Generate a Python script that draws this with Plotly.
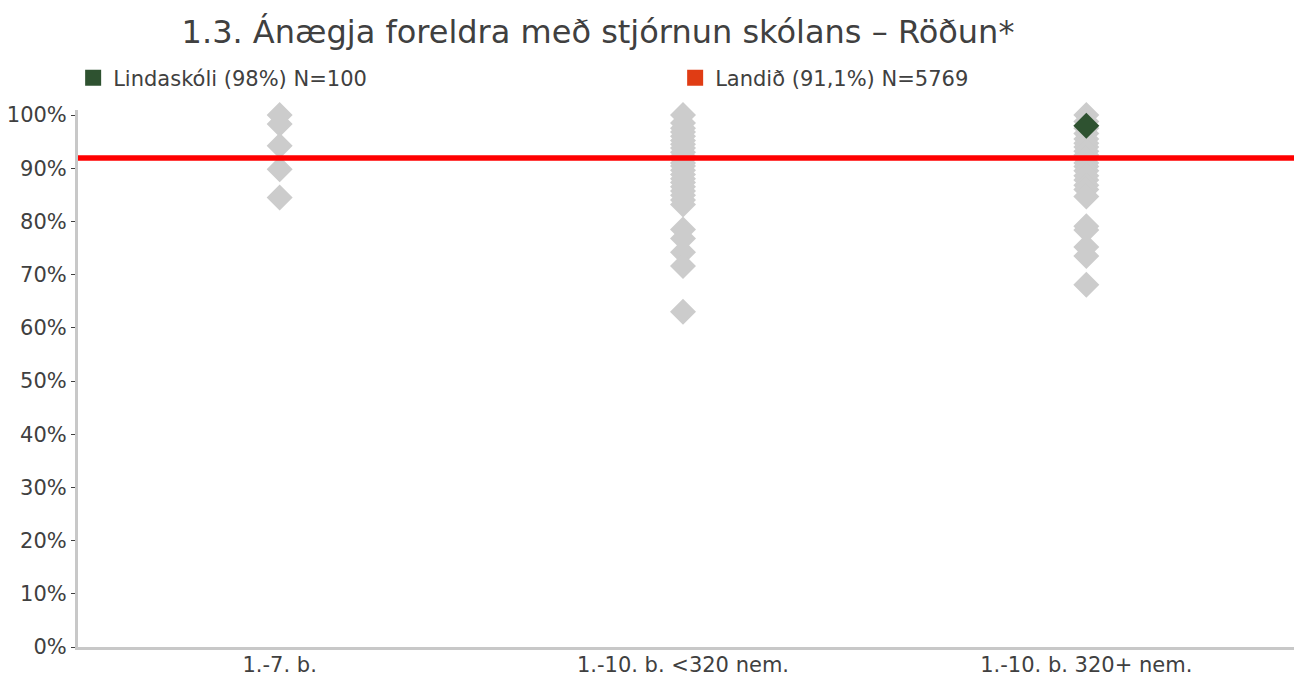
import plotly.graph_objects as go

categories = ["1.-7. b.", "1.-10. b. <320 nem.", "1.-10. b. 320+ nem."]

group_small = [100, 98.3, 94.2, 89.8, 84.5]
group_mid = [100, 98.5, 97.5, 96.8, 96.0, 95.2, 94.5, 93.8, 93.0, 92.3, 91.7,
             91.0, 90.4, 89.6, 88.8, 88.0, 87.3, 86.5, 85.7, 84.9, 84.0, 83.2,
             78.5, 76.8, 74.2, 71.6, 63.0]
group_large = [100, 98.8, 97.5, 96.5, 95.5, 94.7, 94.0, 93.2, 92.5, 91.8, 91.0,
               90.3, 89.5, 88.6, 87.8, 86.8, 86.0, 84.7, 79.1, 78.4, 75.2, 73.5, 68.1]

school_name = "Lindaskóli (98%) N=100"
school_category = "1.-10. b. 320+ nem."
school_value = 98.0

national_name = "Landið (91,1%) N=5769"
national_value = 91.9

title = "1.3. Ánægja foreldra með stjórnun skólans – Röðun*"

GRAY = "#CCCCCC"
GREEN = "#2E5230"
RED = "#FF0000"
LEG_RED = "#E03C14"
TXT = "#404040"
AX = "#C8C8C8"
FONT = "'DejaVu Sans', sans-serif"
XR = [-0.5, 2.515]

fig = go.Figure()

for cat, vals in zip(categories, [group_small, group_mid, group_large]):
    fig.add_trace(go.Scatter(
        x=[cat] * len(vals), y=vals, mode="markers", cliponaxis=False,
        marker=dict(symbol="diamond", size=20, color=GRAY, line=dict(width=0)),
        showlegend=False, hoverinfo="y"))

# national line
fig.add_trace(go.Scatter(
    x=XR, y=[national_value, national_value], mode="lines",
    xaxis="x2", line=dict(color=RED, width=5.5), showlegend=False, hoverinfo="skip"))

fig.add_trace(go.Scatter(
    x=[school_category], y=[school_value], mode="markers", cliponaxis=False,
    marker=dict(symbol="diamond", size=20, color=GREEN, line=dict(width=0)),
    showlegend=False, hoverinfo="y"))

# legend entries
fig.add_trace(go.Scatter(x=[None], y=[None], mode="markers", name=school_name,
                         marker=dict(symbol="square", size=18, color=GREEN)))
fig.add_trace(go.Scatter(x=[None], y=[None], mode="markers", name=national_name,
                         marker=dict(symbol="square", size=18, color=LEG_RED)))

fig.update_layout(
    width=1303, height=676,
    margin=dict(l=70, r=17, t=102, b=37),
    paper_bgcolor="white", plot_bgcolor="white",
    font=dict(family=FONT, color=TXT, size=21),
    title=dict(text=title, x=0.4528, xanchor="center", y=1 - 24 / 676, yanchor="middle",
               font=dict(size=32, color=TXT, family=FONT)),
    legend=dict(orientation="h", xref="container", yref="container",
                x=0.05, xanchor="left", y=1 - 70 / 676, yanchor="middle",
                entrywidth=557, entrywidthmode="pixels",
                font=dict(size=21, color=TXT, family=FONT), bgcolor="rgba(0,0,0,0)"),
    xaxis=dict(type="category", categoryorder="array", categoryarray=categories,
               range=XR, showgrid=False, zeroline=False, automargin=False,
               showline=True, linecolor=AX, linewidth=3, ticks="",
               ticklabelstandoff=-3,
               tickfont=dict(size=21, color=TXT)),
    xaxis2=dict(range=XR, overlaying="x", visible=False),
    yaxis=dict(range=[0, 100.94], dtick=10, ticksuffix="%", showgrid=False,
               zeroline=False, showline=True, linecolor=AX, linewidth=3,
               automargin=False,
               ticks="outside", ticklen=4, tickwidth=1, tickcolor=TXT,
               tickfont=dict(size=21, color=TXT)),
)

fig.write_html("out.html")
